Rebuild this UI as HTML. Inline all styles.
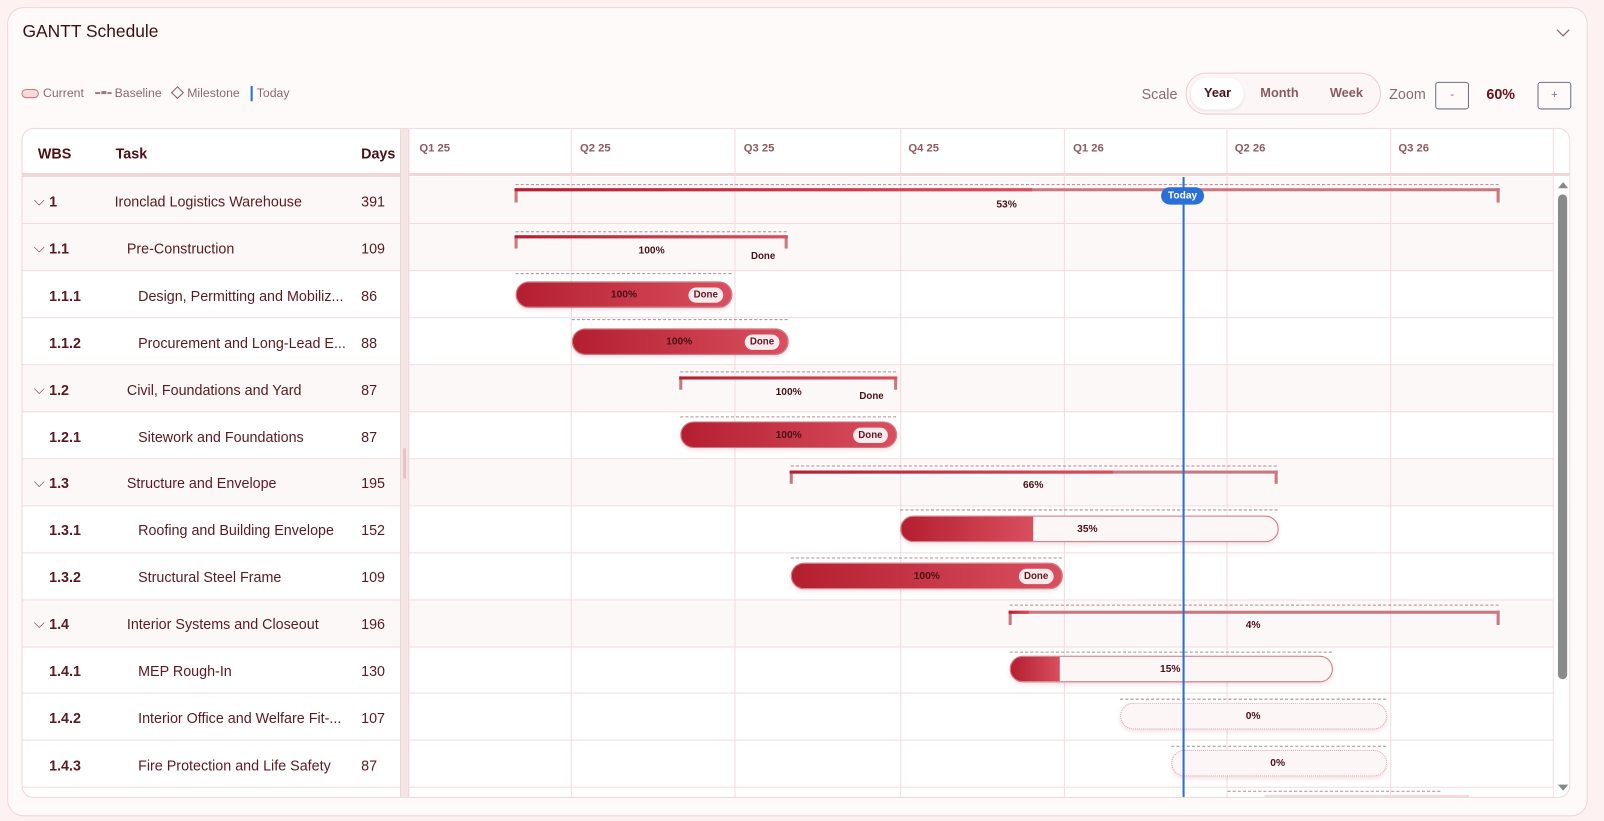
<!DOCTYPE html>
<html><head><meta charset="utf-8"><style>
*{box-sizing:border-box;margin:0;padding:0}
html,body{width:1604px;height:821px;overflow:hidden;background:#fdf1f1}
#w{width:1568px;height:803px;position:relative;transform:scale(1.02296);transform-origin:0 0;font-family:"Liberation Sans",sans-serif;color:#5a1a22}
.a{position:absolute}
.card{left:7px;top:7px;width:1545px;height:791px;background:#fffafa;border:1px solid #efd6d8;border-radius:16px}
.panel{left:21px;top:125px;width:1514px;height:655px;background:#fff;border:1px solid #efd6d8;border-radius:12px;overflow:hidden}
.t{font-size:14px;white-space:nowrap}
.row{position:absolute;left:0;width:1514px;height:46px;border-bottom:1px solid #f1dcde}
.sum{background:#fdf8f8}
.vl{position:absolute;top:0;width:1px;height:655px;background:#f1dcde}
.q{position:absolute;top:13px;font-size:11px;color:#8a5a60;font-weight:bold}
.br{position:absolute;height:10px;border-left:3px solid #c97880;border-right:3px solid #c97880;border-top:3px solid #c97880}
.dash{position:absolute;border-top:1px dashed #b08a90;height:0}
.pill{position:absolute;height:26px;border-radius:13px;border:1px solid #c97880;background:#fdf6f6;overflow:hidden;box-shadow:0 2px 4px rgba(180,40,60,.15)}
.fill{position:absolute;left:0;top:0;bottom:0;background:linear-gradient(90deg,#b41f30,#d94f5f)}
.lbl{position:absolute;font-size:10px;font-weight:bold;color:#4a1018;transform:translateX(-50%)}
.done{position:absolute;font-size:9.5px;background:#fbe9eb;color:#5a1a22;border-radius:8px;padding:2px 5px;font-weight:bold}
.prog{position:absolute;top:-3px;left:-3px;height:3px;background:linear-gradient(90deg,#b41f30,#d94f5f)}
</style></head><body><div id="w">
<div class="a card"></div>
<div class="a t" style="left:22px;top:21px;font-size:17px;color:#3a1015">GANTT Schedule</div>
<svg class="a" style="left:1520px;top:26px" width="16" height="12"><path d="M2 3 L8 9 L14 3" fill="none" stroke="#8a6a70" stroke-width="1.3"/></svg>
<div class="a" style="left:21px;top:87px;width:17px;height:9px;border:1px solid #c97880;border-radius:5px;background:#f6d9dc"></div>
<div class="a t" style="left:42px;top:84px;font-size:12px;color:#8a6a70">Current</div>
<div class="a" style="left:93px;top:90px;width:5px;height:2px;background:#a07a80"></div>
<div class="a" style="left:99px;top:89px;width:5px;height:3px;background:#a07a80"></div>
<div class="a" style="left:105px;top:90px;width:4px;height:2px;background:#a07a80"></div>
<div class="a t" style="left:112px;top:84px;font-size:12px;color:#8a6a70">Baseline</div>
<div class="a" style="left:169px;top:86px;width:9px;height:9px;border:1px solid #8a5a60;transform:rotate(45deg)"></div>
<div class="a t" style="left:183px;top:84px;font-size:12px;color:#8a6a70">Milestone</div>
<div class="a" style="left:245px;top:84px;width:1.5px;height:15px;background:#2a6fd6"></div>
<div class="a t" style="left:251px;top:84px;font-size:12px;color:#8a6a70">Today</div>

<div class="a t" style="left:1116px;top:84px;font-size:14px;color:#8a6a70">Scale</div>
<div class="a" style="left:1159px;top:71px;width:191px;height:41px;border:1px solid #ecccd0;border-radius:20px;background:#fdf6f6"></div>
<div class="a" style="left:1164px;top:76px;width:52px;height:31px;border-radius:16px;background:#fff;box-shadow:0 1px 3px rgba(0,0,0,.1)"></div>
<div class="a t" style="left:1177px;top:84px;font-size:12.5px;font-weight:bold;color:#4a1018">Year</div>
<div class="a t" style="left:1232px;top:84px;font-size:12.5px;font-weight:bold;color:#8a5a60">Month</div>
<div class="a t" style="left:1300px;top:84px;font-size:12.5px;font-weight:bold;color:#8a5a60">Week</div>
<div class="a t" style="left:1358px;top:84px;font-size:14px;color:#8a6a70">Zoom</div>
<div class="a" style="left:1403px;top:80px;width:33px;height:27px;border:1px solid #6a7080;border-radius:3px;font-size:11px;text-align:center;line-height:24px;color:#6a7080">-</div>
<div class="a t" style="left:1453px;top:84px;font-size:14px;font-weight:bold;color:#6a1018">60%</div>
<div class="a" style="left:1503px;top:80px;width:33px;height:27px;border:1px solid #6a7080;border-radius:3px;font-size:11px;text-align:center;line-height:24px;color:#6a7080">+</div>

<div class="a panel">
 <div class="row sum" style="top:47px"></div>
 <div class="row sum" style="top:93px"></div>
 <div class="row" style="top:139px"></div>
 <div class="row" style="top:185px"></div>
 <div class="row sum" style="top:231px"></div>
 <div class="row" style="top:277px"></div>
 <div class="row sum" style="top:323px"></div>
 <div class="row" style="top:369px"></div>
 <div class="row" style="top:415px"></div>
 <div class="row sum" style="top:461px"></div>
 <div class="row" style="top:506px"></div>
 <div class="row" style="top:552px"></div>
 <div class="row" style="top:598px"></div>
 <div class="row" style="top:644px"></div>
 <div class="a" style="left:0;top:0;width:1514px;height:46px;background:#fff;border-bottom:3px solid #efd6d8"></div>
 <div class="a" style="left:0;top:46px;width:369px;height:1px;background:#efd6d8"></div>
 <div class="a" style="left:369px;top:0;width:9px;height:655px;background:#f6e3e4;border-left:1px solid #efd6d8;border-right:1px solid #efd6d8"></div>
 <div class="a" style="left:372px;top:312px;width:3px;height:30px;background:#e4c4c8;border-radius:2px"></div>
 <div class="vl" style="left:536px"></div><div class="vl" style="left:696px"></div><div class="vl" style="left:858px"></div>
 <div class="vl" style="left:1018px"></div><div class="vl" style="left:1177px"></div><div class="vl" style="left:1337px"></div><div class="vl" style="left:1496px"></div>
 <div class="q" style="left:388px">Q1 25</div><div class="q" style="left:545px">Q2 25</div><div class="q" style="left:705px">Q3 25</div>
 <div class="q" style="left:866px">Q4 25</div><div class="q" style="left:1027px">Q1 26</div><div class="q" style="left:1185px">Q2 26</div><div class="q" style="left:1345px">Q3 26</div>
 <div class="a t" style="left:15px;top:16px;font-weight:bold;color:#4a1018">WBS</div>
 <div class="a t" style="left:91px;top:16px;font-weight:bold;color:#4a1018">Task</div>
 <div class="a t" style="left:331px;top:16px;font-weight:bold;color:#4a1018">Days</div>
 <div class="a" style="left:1497px;top:47px;width:17px;height:608px;background:#fff"></div>
 <div class="a" style="left:1501px;top:52px;width:0;height:0;border-left:5px solid transparent;border-right:5px solid transparent;border-bottom:6px solid #888"></div>
 <div class="a" style="left:1501px;top:64px;width:9px;height:474px;background:#8a8a8a;border-radius:5px"></div>
 <div class="a" style="left:1501px;top:641px;width:0;height:0;border-left:5px solid transparent;border-right:5px solid transparent;border-top:6px solid #888"></div>
</div>

<div class="a t" style="left:33px;top:188px;color:#6a3a40">⌵</div>
<div class="a t" style="left:48px;top:189px;font-weight:bold">1</div><div class="a t" style="left:112px;top:189px">Ironclad Logistics Warehouse</div><div class="a t" style="left:353px;top:189px">391</div>
<div class="a t" style="left:33px;top:234px;color:#6a3a40">⌵</div>
<div class="a t" style="left:48px;top:235px;font-weight:bold">1.1</div><div class="a t" style="left:124px;top:235px">Pre-Construction</div><div class="a t" style="left:353px;top:235px">109</div>
<div class="a t" style="left:48px;top:281px;font-weight:bold">1.1.1</div><div class="a t" style="left:135px;top:281px">Design, Permitting and Mobiliz...</div><div class="a t" style="left:353px;top:281px">86</div>
<div class="a t" style="left:48px;top:327px;font-weight:bold">1.1.2</div><div class="a t" style="left:135px;top:327px">Procurement and Long-Lead E...</div><div class="a t" style="left:353px;top:327px">88</div>
<div class="a t" style="left:33px;top:372px;color:#6a3a40">⌵</div>
<div class="a t" style="left:48px;top:373px;font-weight:bold">1.2</div><div class="a t" style="left:124px;top:373px">Civil, Foundations and Yard</div><div class="a t" style="left:353px;top:373px">87</div>
<div class="a t" style="left:48px;top:419px;font-weight:bold">1.2.1</div><div class="a t" style="left:135px;top:419px">Sitework and Foundations</div><div class="a t" style="left:353px;top:419px">87</div>
<div class="a t" style="left:33px;top:463px;color:#6a3a40">⌵</div>
<div class="a t" style="left:48px;top:464px;font-weight:bold">1.3</div><div class="a t" style="left:124px;top:464px">Structure and Envelope</div><div class="a t" style="left:353px;top:464px">195</div>
<div class="a t" style="left:48px;top:510px;font-weight:bold">1.3.1</div><div class="a t" style="left:135px;top:510px">Roofing and Building Envelope</div><div class="a t" style="left:353px;top:510px">152</div>
<div class="a t" style="left:48px;top:556px;font-weight:bold">1.3.2</div><div class="a t" style="left:135px;top:556px">Structural Steel Frame</div><div class="a t" style="left:353px;top:556px">109</div>
<div class="a t" style="left:33px;top:601px;color:#6a3a40">⌵</div>
<div class="a t" style="left:48px;top:602px;font-weight:bold">1.4</div><div class="a t" style="left:124px;top:602px">Interior Systems and Closeout</div><div class="a t" style="left:353px;top:602px">196</div>
<div class="a t" style="left:48px;top:648px;font-weight:bold">1.4.1</div><div class="a t" style="left:135px;top:648px">MEP Rough-In</div><div class="a t" style="left:353px;top:648px">130</div>
<div class="a t" style="left:48px;top:694px;font-weight:bold">1.4.2</div><div class="a t" style="left:135px;top:694px">Interior Office and Welfare Fit-...</div><div class="a t" style="left:353px;top:694px">107</div>
<div class="a t" style="left:48px;top:740px;font-weight:bold">1.4.3</div><div class="a t" style="left:135px;top:740px">Fire Protection and Life Safety</div><div class="a t" style="left:353px;top:740px">87</div>

<div class="dash" style="left:504px;top:180px;width:961px"></div>
<div class="br" style="left:503px;top:184px;width:963px;height:14px"><div class="prog" style="width:506px"></div></div>
<div class="lbl" style="left:984px;top:195px">53%</div>

<div class="dash" style="left:504px;top:226px;width:265px"></div>
<div class="br" style="left:503px;top:230px;width:267px;height:13px"><div class="prog" style="width:267px"></div></div>
<div class="lbl" style="left:637px;top:240px">100%</div><div class="lbl" style="left:746px;top:245px;font-size:9.5px">Done</div>

<div class="dash" style="left:504px;top:267px;width:211px"></div>
<div class="pill" style="left:504px;top:275px;width:212px"><div class="fill" style="width:100%"></div></div>
<div class="lbl" style="left:610px;top:283px">100%</div><div class="done" style="left:673px;top:281px">Done</div>

<div class="dash" style="left:559px;top:312px;width:211px"></div>
<div class="pill" style="left:559px;top:321px;width:212px"><div class="fill" style="width:100%"></div></div>
<div class="lbl" style="left:664px;top:329px">100%</div><div class="done" style="left:728px;top:327px">Done</div>

<div class="dash" style="left:665px;top:363px;width:211px"></div>
<div class="br" style="left:664px;top:368px;width:213px;height:13px"><div class="prog" style="width:213px"></div></div>
<div class="lbl" style="left:771px;top:378px">100%</div><div class="lbl" style="left:852px;top:382px;font-size:9.5px">Done</div>

<div class="dash" style="left:665px;top:407px;width:211px"></div>
<div class="pill" style="left:665px;top:412px;width:212px"><div class="fill" style="width:100%"></div></div>
<div class="lbl" style="left:771px;top:420px">100%</div><div class="done" style="left:834px;top:418px">Done</div>

<div class="dash" style="left:773px;top:455px;width:475px"></div>
<div class="br" style="left:772px;top:460px;width:477px;height:13px"><div class="prog" style="width:316px"></div></div>
<div class="lbl" style="left:1010px;top:469px">66%</div>

<div class="dash" style="left:880px;top:498px;width:369px"></div>
<div class="pill" style="left:880px;top:504px;width:370px"><div class="fill" style="width:129px"></div></div>
<div class="lbl" style="left:1063px;top:512px">35%</div>

<div class="dash" style="left:773px;top:545px;width:265px"></div>
<div class="pill" style="left:773px;top:550px;width:266px"><div class="fill" style="width:100%"></div></div>
<div class="lbl" style="left:906px;top:558px">100%</div><div class="done" style="left:996px;top:556px">Done</div>

<div class="dash" style="left:987px;top:591px;width:478px"></div>
<div class="br" style="left:986px;top:597px;width:480px;height:14px"><div class="prog" style="width:20px"></div></div>
<div class="lbl" style="left:1225px;top:606px">4%</div>

<div class="dash" style="left:987px;top:637px;width:315px"></div>
<div class="pill" style="left:987px;top:641px;width:316px"><div class="fill" style="width:48px"></div></div>
<div class="lbl" style="left:1144px;top:649px">15%</div>

<div class="dash" style="left:1095px;top:683px;width:260px"></div>
<div class="pill" style="left:1095px;top:687px;width:261px;border:1px dotted #d8a0a8"></div>
<div class="lbl" style="left:1225px;top:695px">0%</div>

<div class="dash" style="left:1145px;top:729px;width:210px"></div>
<div class="pill" style="left:1145px;top:733px;width:211px;border:1px dotted #d8a0a8"></div>
<div class="lbl" style="left:1249px;top:741px">0%</div>

<div class="dash" style="left:1200px;top:773px;width:208px"></div>
<div class="a" style="left:1236px;top:777px;width:200px;height:3px;background:#f3dadd"></div>

<div class="a" style="left:1156px;top:173px;width:2px;height:606px;background:#2a6fd6"></div>
<div class="a" style="left:1135px;top:183px;width:42px;height:17px;border-radius:9px;background:#2a6fd6;color:#fff;font-size:10px;font-weight:bold;text-align:center;line-height:17px">Today</div>
</div></body></html>
